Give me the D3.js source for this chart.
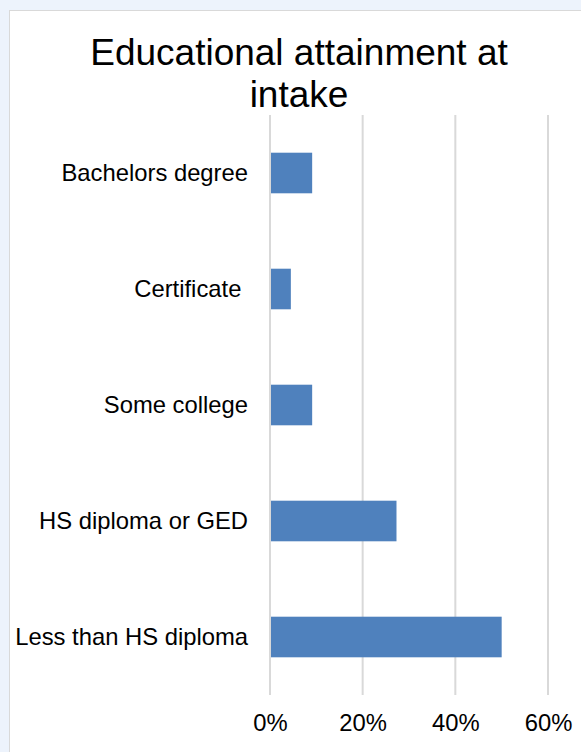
<!DOCTYPE html>
<html>
<head>
<meta charset="utf-8">
<script src="https://cdn.jsdelivr.net/npm/d3@7"></script>
<style>
  html, body { margin: 0; padding: 0; background: #edf3fc; }
  svg { display: block; font-family: "Liberation Sans", Arial, sans-serif; }
</style>
</head>
<body>
<svg id="chart" width="581" height="752"></svg>
<script>
// categories, top to bottom as shown
var categories = ["Bachelors degree", "Certificate ", "Some college", "HS diploma or GED", "Less than HS diploma"];
var shares = [0.091, 0.045, 0.091, 0.273, 0.50];
var tickValues = [0, 0.2, 0.4, 0.6];
var titleLines = ["Educational attainment at", "intake"];

var data = categories.map(function(c, i) { return {label: c, value: shares[i]}; });

var svg = d3.select("#chart");

// white chart panel
svg.append("rect")
  .attr("x", 9.5).attr("y", 10.5)
  .attr("width", 600).attr("height", 800)
  .attr("fill", "#fff")
  .attr("stroke", "#d9d9d9")
  .attr("stroke-width", 1);

var x = d3.scaleLinear().domain([0, 0.6]).range([270, 548]);
var y = d3.scaleBand().domain(categories).range([115, 695])
  .paddingInner(0.65).paddingOuter(0.325);

// gridlines
svg.append("g").selectAll("line")
  .data(tickValues)
  .enter().append("line")
  .attr("x1", function(d) { return x(d); })
  .attr("x2", function(d) { return x(d); })
  .attr("y1", 115).attr("y2", 695)
  .attr("stroke", "#d9d9d9")
  .attr("stroke-width", 2);

// bars
svg.append("g").selectAll("rect")
  .data(data)
  .enter().append("rect")
  .attr("x", x(0) + 1)
  .attr("y", function(d) { return y(d.label); })
  .attr("width", function(d) { return x(d.value) - x(0) - 1; })
  .attr("height", y.bandwidth())
  .attr("fill", "#4f81bd");

// x axis ticks
var xAxis = d3.axisBottom(x).tickValues(tickValues).tickFormat(d3.format(".0%")).tickSize(0).tickPadding(0);
var gx = svg.append("g").attr("transform", "translate(0,731)").call(xAxis);
gx.select(".domain").remove();
gx.selectAll("text")
  .attr("y", 0).attr("dy", 0)
  .attr("font-size", "23.8px")
  .attr("font-family", "Liberation Sans, Arial, sans-serif")
  .attr("fill", "#000");

// category labels
var yAxis = d3.axisLeft(y).tickSize(0).tickPadding(22);
var gy = svg.append("g").attr("transform", "translate(270,0)").call(yAxis);
gy.select(".domain").remove();
gy.selectAll("text")
  .attr("dy", "0.33em")
  .attr("font-size", "23.8px")
  .attr("font-family", "Liberation Sans, Arial, sans-serif")
  .attr("fill", "#000")
  .style("white-space", "pre");

// title
svg.append("g").selectAll("text")
  .data(titleLines)
  .enter().append("text")
  .attr("x", 299)
  .attr("y", function(d, i) { return 65 + i * 42; })
  .attr("text-anchor", "middle")
  .attr("font-size", "37px")
  .attr("fill", "#000")
  .text(function(d) { return d; });
</script>
</body>
</html>
